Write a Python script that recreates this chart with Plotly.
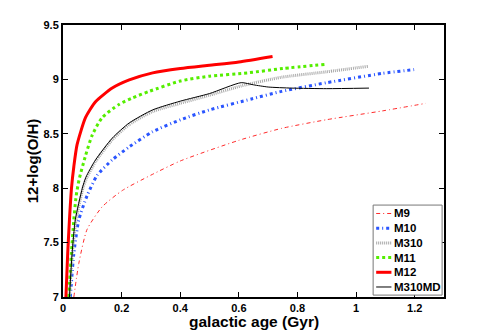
import plotly.graph_objects as go

# values
m9_x = [0.037, 0.054, 0.082, 0.134, 0.203, 0.30, 0.4, 0.6, 0.746, 0.9, 1.089, 1.238]
m9_y = [7.0, 7.31, 7.62, 7.83, 7.98, 8.12, 8.25, 8.44, 8.55, 8.63, 8.71, 8.78]

m10_x = [0.025, 0.037, 0.054, 0.082, 0.117, 0.168, 0.226, 0.306, 0.402, 0.5, 0.643, 0.746, 0.9, 1.089, 1.198]
m10_y = [7.0, 7.40, 7.71, 7.93, 8.12, 8.26, 8.38, 8.52, 8.63, 8.72, 8.82, 8.89, 8.97, 9.055, 9.09]

m310_x = [0.022, 0.032, 0.044, 0.068, 0.08, 0.111, 0.168, 0.226, 0.306, 0.4, 0.5, 0.608, 0.746, 0.9, 1.041]
m310_y = [7.0, 7.40, 7.70, 8.0, 8.09, 8.245, 8.445, 8.585, 8.705, 8.78, 8.855, 8.94, 9.02, 9.07, 9.12]

m11_x = [0.0195, 0.0286, 0.037, 0.045, 0.055, 0.077, 0.10, 0.134, 0.191, 0.237, 0.294, 0.4, 0.5, 0.63, 0.75, 0.9]
m11_y = [7.0, 7.40, 7.71, 7.93, 8.08, 8.30, 8.49, 8.65, 8.77, 8.83, 8.89, 8.985, 9.03, 9.06, 9.10, 9.14]

m12_x = [0.010, 0.016, 0.022, 0.029, 0.037, 0.048, 0.077, 0.111, 0.168, 0.226, 0.306, 0.4, 0.5, 0.6, 0.715]
m12_y = [7.0, 7.40, 7.71, 8.0, 8.2, 8.40, 8.65, 8.795, 8.92, 8.995, 9.06, 9.10, 9.13, 9.16, 9.21]

m310md_x = [0.022, 0.031, 0.042, 0.066, 0.078, 0.111, 0.168, 0.226, 0.306, 0.4, 0.5, 0.608, 0.65, 0.7, 0.78, 0.9, 1.044]
m310md_y = [7.0, 7.40, 7.71, 8.0, 8.1, 8.26, 8.46, 8.60, 8.72, 8.80, 8.87, 8.97, 8.95, 8.93, 8.92, 8.915, 8.92]

FONT = "Liberation Sans, Arial, Helvetica, sans-serif"

series = [
    ("M9", m9_x, m9_y, dict(color="#ff2a2a", width=1, dash="4px,3px,1px,3px")),
    ("M10", m10_x, m10_y, dict(color="#2a55ff", width=3, dash="3px,3px,1px,3px")),
    ("M310", m310_x, m310_y, dict(color="#a8a8a8", width=3, dash="1px,1px")),
    ("M11", m11_x, m11_y, dict(color="#55ee00", width=3, dash="3px,3px")),
    ("M12", m12_x, m12_y, dict(color="#ff0000", width=3)),
    ("M310MD", m310md_x, m310md_y, dict(color="#000000", width=1)),
]

fig = go.Figure()
for name, xs, ys, line in series:
    fig.add_trace(go.Scatter(x=xs, y=ys, name=name, mode="lines", showlegend=False,
                             line=dict(shape="spline", smoothing=0.6, **line)))

# small matlab-like legend box in the lower right corner (paper coords)
fig.add_shape(type="rect", xref="paper", yref="paper", x0=0.814, x1=0.995, y0=0.007, y1=0.338,
              line=dict(color="#777777", width=1), fillcolor="white", layer="above")
row_h = 14.7 / 272
y_first = 0.307
for i, (name, xs, ys, line) in enumerate(series):
    yy = y_first - i * row_h
    fig.add_shape(type="line", xref="paper", yref="paper", x0=0.822, x1=0.862, y0=yy, y1=yy,
                  line=line, layer="above")
    fig.add_annotation(x=0.864, y=yy, xref="paper", yref="paper", text=name, showarrow=False,
                       xanchor="left", yanchor="middle",
                       font=dict(family=FONT, size=11.5, color="black", weight="bold"))

axis_common = dict(showline=True, linecolor="black", linewidth=2, mirror="ticks",
                   ticks="inside", ticklen=5, tickwidth=1, tickcolor="black",
                   showgrid=False, zeroline=False, automargin=False,
                   tickfont=dict(family=FONT, size=11, color="black", weight="bold"))

fig.update_xaxes(range=[0, 1.3], dtick=0.2, tick0=0, **axis_common)
fig.update_yaxes(range=[7, 9.5], dtick=0.5, tick0=7,
                 title=dict(text="12+log(O/H)", standoff=1,
                            font=dict(family=FONT, size=15, color="black", weight="bold")),
                 **axis_common)

# x title as annotation so it sits closer to the tick labels
fig.add_annotation(x=0.5, y=0, xref="paper", yref="paper", text="galactic age (Gyr)",
                   showarrow=False, xanchor="center", yanchor="middle", yshift=-24,
                   font=dict(family=FONT, size=15.5, color="black", weight="bold"))

# the page body adds an 8px offset, so the figure is a bit smaller and shifted
fig.update_layout(
    width=483, height=326,
    margin=dict(l=55, r=47, t=17, b=37),
    plot_bgcolor="white", paper_bgcolor="white",
    font=dict(family=FONT, color="black"),
    showlegend=False,
)

fig.write_html("out.html")
